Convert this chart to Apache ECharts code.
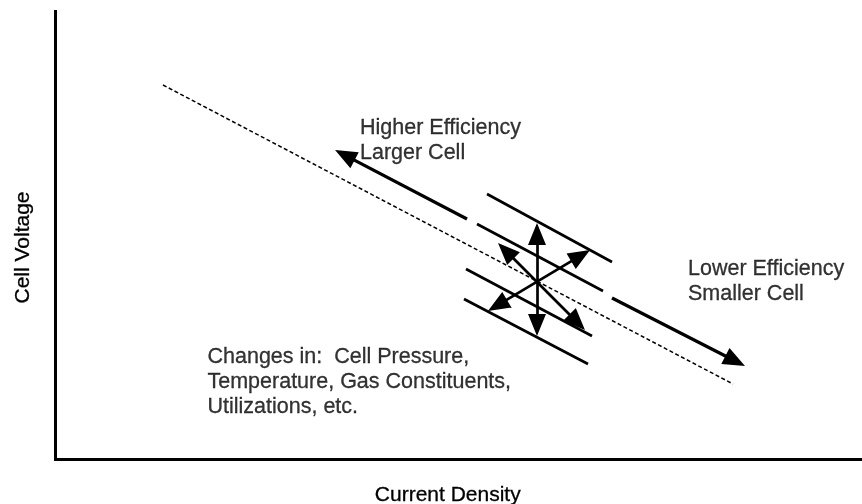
<!DOCTYPE html>
<html>
<head>
<meta charset="utf-8">
<script src="https://cdn.jsdelivr.net/npm/echarts@6/dist/echarts.min.js"></script>
<style>
  html, body { margin: 0; padding: 0; background: #fff; }
  #chart { width: 862px; height: 504px; }
</style>
</head>
<body>
<div id="chart"></div>
<script>
// schematic units: x = current density, y = cell voltage (arbitrary)
const X_MAX = 806.5;
const Y_MAX = 448;

const xName = 'Current Density';
const yName = 'Cell Voltage';

// dashed operating line
const dashedLine = [[107.5, 374.5], [677.5, 75.5]];

// long arrows along the line: [start, arrowhead]
const higherArrow = [[411.5, 240.5], [289.3, 304.4]];
const lowerArrow = [[556.5, 161.5], [679.7, 98.5]];

// four parallel shifted curves
const bands = [
  [[431.5, 265.5], [556.5, 197.5]],
  [[421.5, 235.5], [547.5, 168.5]],
  [[410.5, 190.5], [536.5, 123.5]],
  [[408.5, 160.5], [532.5, 95.5]]
];

// double headed arrows of the cross
const crossArrows = [
  [[481.5, 225.5], [481.5, 134.5]],
  [[450.3, 208.7], [521.7, 137.3]],
  [[525.1, 203.9], [441.9, 154.1]]
];

const notes = [
  { text: 'Higher Efficiency\nLarger Cell', at: [305, 343.5] },
  { text: 'Lower Efficiency\nSmaller Cell', at: [633, 202.5] },
  { text: 'Changes in:  Cell Pressure,\nTemperature, Gas Constituents,\nUtilizations, etc.', at: [152.5, 114] }
];

const FONT = '"Liberation Sans", Arial, Helvetica, sans-serif';
const HEAD = 'path://M11,0 L20,22 L22,22 L0,22 L2,22 Z';

const chart = echarts.init(document.getElementById('chart'), null, { renderer: 'canvas' });

const axisLine = { show: true, lineStyle: { color: '#000', width: 3, cap: 'square' } };
const nameStyle = {
  fontFamily: FONT, fontSize: 21, color: '#000',
  textBorderColor: '#000', textBorderWidth: 0.3
};

const option = {
  animation: false,
  grid: { left: 55.5, right: 0, top: 11.5, bottom: 44.5, outerBoundsMode: 'none' },
  xAxis: {
    type: 'value',
    min: 0,
    max: X_MAX,
    name: xName,
    nameLocation: 'middle',
    nameGap: 25,
    nameTextStyle: Object.assign({ padding: [0, 22, 0, 0] }, nameStyle),
    axisLine: axisLine,
    axisTick: { show: false },
    axisLabel: { show: false },
    splitLine: { show: false }
  },
  yAxis: {
    type: 'value',
    min: 0,
    max: Y_MAX,
    name: yName,
    nameLocation: 'middle',
    nameGap: 22,
    nameTextStyle: Object.assign({ padding: [0, 24, 0, 0] }, nameStyle),
    axisLine: axisLine,
    axisTick: { show: false },
    axisLabel: { show: false },
    splitLine: { show: false }
  },
  series: [
    {
      type: 'line',
      data: dashedLine,
      symbol: 'none',
      lineStyle: { color: '#000', width: 1.5, type: [4, 2.5] }
    },
    {
      type: 'lines',
      coordinateSystem: 'cartesian2d',
      data: bands.map(b => ({ coords: b })),
      symbol: 'none',
      lineStyle: { color: '#000', width: 2.7, opacity: 1, curveness: 0 }
    },
    {
      type: 'lines',
      coordinateSystem: 'cartesian2d',
      data: [higherArrow, lowerArrow].map(a => ({ coords: a })),
      symbol: ['none', HEAD],
      symbolSize: 22,
      lineStyle: { color: '#000', width: 3.2, opacity: 1, curveness: 0 }
    },
    {
      type: 'lines',
      coordinateSystem: 'cartesian2d',
      data: crossArrows.map(a => ({ coords: a })),
      symbol: [HEAD, HEAD],
      symbolSize: 22,
      lineStyle: { color: '#000', width: 2.7, opacity: 1, curveness: 0 }
    },
    {
      type: 'scatter',
      data: notes.map(n => ({ value: n.at, name: n.text })),
      symbolSize: 1,
      itemStyle: { color: 'transparent' },
      label: {
        show: true,
        position: [0, 0],
        align: 'left',
        verticalAlign: 'top',
        formatter: p => p.name,
        fontFamily: FONT,
        fontSize: 21.5,
        lineHeight: 25,
        color: '#000',
        textBorderColor: '#000',
        textBorderWidth: 0.3
      }
    }
  ]
};

chart.setOption(option);
</script>
</body>
</html>
